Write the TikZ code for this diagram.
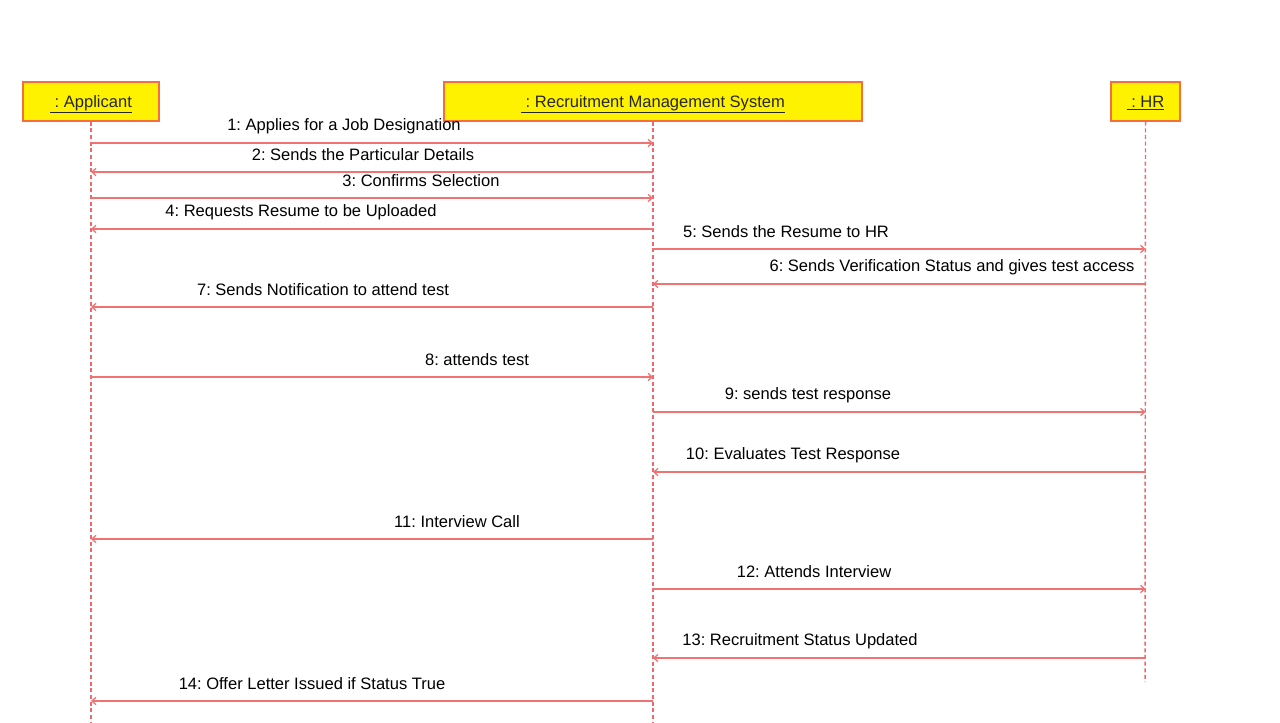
\documentclass[tikz,border=0pt]{standalone}
\usepackage{fontspec}
\setmainfont{Liberation Sans}
\usetikzlibrary{arrows.meta}
\frenchspacing
\definecolor{boxborder}{RGB}{245,110,60}
\definecolor{lifeline}{RGB}{238,105,110}
\definecolor{msgline}{RGB}{240,115,115}
\newcommand{\boxtext}[1]{\raisebox{-4.3pt}[0pt][0pt]{\underline{#1}}}
\tikzset{
  objbox/.style={draw=boxborder, fill=yellow, line width=0.9pt, inner sep=0pt,
    minimum height=29.25pt, font=\fontsize{12.4}{14}\selectfont\frenchspacing, text=black!85},
  lifel/.style={draw=lifeline, line width=1.1pt, dash pattern=on 3pt off 2pt},
  msg/.style={draw=msgline, line width=1pt, -{Straight Barb[length=3pt,width=5.5pt]}},
  lbl/.style={font=\fontsize{12.4}{14}\selectfont\frenchspacing, inner sep=0pt, text=black}
}
\begin{document}
\begin{tikzpicture}[x=0.75pt,y=-0.75pt]
\useasboundingbox (0,0) rectangle (1280,722);
% objects
\node[objbox, minimum width=102pt] (A) at (91,101.5) {\boxtext{\ : Applicant}};
\node[objbox, minimum width=313.5pt] (R) at (653,101.5) {\boxtext{\ : Recruitment Management System}};
\node[objbox, minimum width=51.75pt] (H) at (1145.5,101.5) {\boxtext{\ : HR}};
% lifeline ends
\coordinate (Aend) at (91,722);
\coordinate (Rend) at (653,722);
\coordinate (Hend) at (1145,682);
\draw[lifel] (A.south) -- (Aend);
\draw[lifel] (R.south) -- (Rend);
\draw[lifel] (H.south) -- (Hend);
% message rows
\foreach \i/\y in {1/143,2/172,3/198,4/229,5/249,6/284,7/307,8/377,9/412,10/472,11/539,12/589,13/658,14/701}
  \coordinate (m\i) at (0,\y);
% messages
\draw[msg] (A.south |- m1) -- (R.south |- m1);
\draw[msg] (R.south |- m2) -- (A.south |- m2);
\draw[msg] (A.south |- m3) -- (R.south |- m3);
\draw[msg] (R.south |- m4) -- (A.south |- m4);
\draw[msg] (R.south |- m5) -- (H.south |- m5);
\draw[msg] (H.south |- m6) -- (R.south |- m6);
\draw[msg] (R.south |- m7) -- (A.south |- m7);
\draw[msg] (A.south |- m8) -- (R.south |- m8);
\draw[msg] (R.south |- m9) -- (H.south |- m9);
\draw[msg] (H.south |- m10) -- (R.south |- m10);
\draw[msg] (R.south |- m11) -- (A.south |- m11);
\draw[msg] (R.south |- m12) -- (H.south |- m12);
\draw[msg] (H.south |- m13) -- (R.south |- m13);
\draw[msg] (R.south |- m14) -- (A.south |- m14);
% labels
\node[lbl] (l1) at (344,126) {1: Applies for a Job Designation};
\node[lbl] (l2) at (363,155) {2: Sends the Particular Details};
\node[lbl] (l3) at (421,181) {3: Confirms Selection};
\node[lbl] (l4) at (301,212) {4: Requests Resume to be Uploaded};
\node[lbl] (l5) at (786,232) {5: Sends the Resume to HR};
\node[lbl] (l6) at (952,267) {6: Sends Verification Status and gives test access};
\node[lbl] (l7) at (323,290) {7: Sends Notification to attend test};
\node[lbl] (l8) at (477,360) {8: attends test};
\node[lbl] (l9) at (808,395) {9: sends test response};
\node[lbl] (l10) at (793,455) {10: Evaluates Test Response};
\node[lbl] (l11) at (457,522) {11: Interview Call};
\node[lbl] (l12) at (814,572) {12: Attends Interview};
\node[lbl] (l13) at (800,641) {13: Recruitment Status Updated};
\node[lbl] (l14) at (312,684) {14: Offer Letter Issued if Status True};
\end{tikzpicture}
\end{document}
